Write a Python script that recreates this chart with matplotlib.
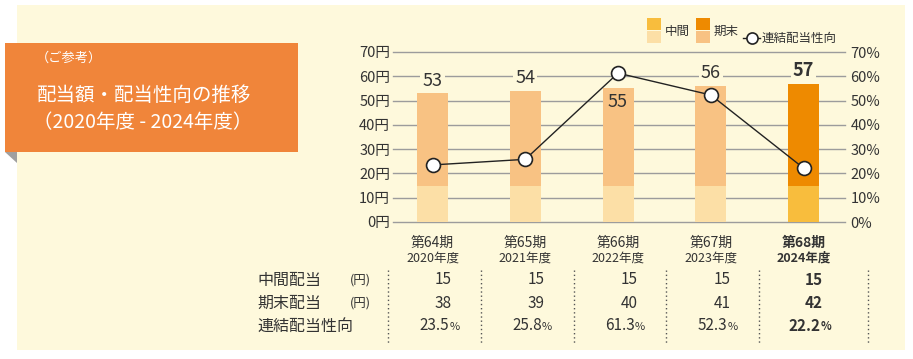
import numpy as np
import matplotlib.pyplot as plt
from matplotlib.patches import Rectangle, Polygon
from matplotlib.lines import Line2D
import matplotlib.transforms as mtransforms

plt.rcParams['font.family'] = ['Noto Sans CJK JP', 'DejaVu Sans']

periods = ['第64期', '第65期', '第66期', '第67期', '第68期']
years = ['2020年度', '2021年度', '2022年度', '2023年度', '2024年度']
interim = [15, 15, 15, 15, 15]
year_end = [38, 39, 40, 41, 42]
total = [53, 54, 55, 56, 57]
payout = [23.5, 25.8, 61.3, 52.3, 22.2]

W, H = 913, 359
bg = '#fef9dc'
txt = '#333333'
c_int = ['#fcdfa6'] * 4 + ['#f8bd3d']
c_end = ['#f8c283'] * 4 + ['#ee8a00']


def fx(px):
    return px / W


def fy(py):
    return 1 - py / H


fig = plt.figure(figsize=(W / 100, H / 100), dpi=100)
fig.patch.set_facecolor('white')

# cream panel + orange title box
fig.add_artist(Rectangle((fx(17), fy(350)), fx(905) - fx(17), fy(5) - fy(350),
                         transform=fig.transFigure, facecolor=bg, edgecolor='none', zorder=0))
fig.add_artist(Polygon([(fx(5), fy(152)), (fx(17), fy(152)), (fx(17), fy(163))],
                       transform=fig.transFigure, facecolor='#a0a0a0', edgecolor='none', zorder=1))
fig.add_artist(Rectangle((fx(5), fy(152)), fx(298) - fx(5), fy(43) - fy(152),
                         transform=fig.transFigure, facecolor='#f0853a', edgecolor='none', zorder=1))
fig.text(fx(36), fy(58), '（ご参考）', color='white', fontsize=9.5, va='center', ha='left')
fig.text(fx(37), fy(95), '配当額・配当性向の推移', color='white', fontsize=14, va='center', ha='left')
fig.text(fx(33), fy(123), '（2020年度 - 2024年度）', color='white', fontsize=14, va='center', ha='left')

ax = fig.add_axes([fx(393), fy(222), fx(845) - fx(393), fy(52) - fy(222)])
ax.set_facecolor('none')
x = np.arange(len(periods))
bw = 0.334
ax.bar(x, interim, bw, color=c_int, zorder=2)
ax.bar(x, year_end, bw, bottom=interim, color=c_end, zorder=2)
ax.set_xlim(-0.426, 4.447)
ax.set_ylim(0, 70)
ax.set_yticks(range(0, 71, 10))
ax.set_yticklabels([f'{v}円' for v in range(0, 71, 10)], fontsize=10.5, color=txt)
ax.set_xticks([])
ax.yaxis.grid(True, color='#9c9c9c', linewidth=1, zorder=0)
ax.set_axisbelow(True)
ax.tick_params(axis='y', length=0, pad=2)
for s in ax.spines.values():
    s.set_visible(False)
for gl in ax.yaxis.get_gridlines():
    gl.set_clip_on(False)

for i, t in enumerate(total):
    bold = i == len(total) - 1
    if t < payout[i] < t + 10:
        # line marker sits right above the bar, so the label goes inside
        ax.text(i, t - 2, str(t), ha='center', va='top', fontsize=13, color=txt, zorder=4)
    else:
        ax.text(i, t + 1.5, str(t), ha='center', va='bottom', fontsize=13, color=txt,
                fontweight='bold' if bold else 'normal', zorder=4,
                bbox=dict(facecolor=bg, edgecolor='none', pad=1.5))

ax2 = ax.twinx()
ax2.set_ylim(0, 70)
ax2.set_yticks(range(0, 71, 10))
ax2.set_yticklabels([f'{v}%' for v in range(0, 71, 10)], fontsize=10.5, color=txt)
ax2.tick_params(axis='y', length=0, pad=4)
for s in ax2.spines.values():
    s.set_visible(False)
ax2.plot(x, payout, color='#222222', linewidth=1, marker='o', markersize=10,
         markerfacecolor='white', markeredgecolor='#222222', markeredgewidth=1.2, zorder=5)

# legend
for lx, label, cols in [(647, '中間', ('#f8bd3d', '#fcdfa6')), (696, '期末', ('#ee8a00', '#f8c283'))]:
    fig.add_artist(Rectangle((fx(lx), fy(30)), fx(14), fy(18) - fy(30),
                             transform=fig.transFigure, facecolor=cols[0], edgecolor='none'))
    fig.add_artist(Rectangle((fx(lx), fy(43)), fx(14), fy(31) - fy(43),
                             transform=fig.transFigure, facecolor=cols[1], edgecolor='none'))
    fig.text(fx(lx + 18), fy(31), label, fontsize=9, color=txt, va='center', ha='left')
fig.add_artist(Line2D([fx(743), fx(760)], [fy(38), fy(38)], transform=fig.transFigure,
                      color='#222222', linewidth=1))
fig.add_artist(Line2D([fx(752)], [fy(38)], transform=fig.transFigure, marker='o',
                      markersize=8, markerfacecolor='white', markeredgecolor='#222222',
                      markeredgewidth=1.2, linestyle='none'))
fig.text(fx(762), fy(38), '連結配当性向', fontsize=9, color=txt, va='center', ha='left')

# table below
tr = mtransforms.blended_transform_factory(ax.transData, fig.transFigure)
for i in range(len(periods)):
    bold = 'bold' if i == len(periods) - 1 else 'normal'
    ax.text(i, fy(243), periods[i], transform=tr, ha='center', va='center',
            fontsize=10, color=txt, fontweight=bold)
    ax.text(i, fy(258), years[i], transform=tr, ha='center', va='center',
            fontsize=9, color=txt, fontweight=bold)
    ax.text(i + 0.21, fy(280), str(interim[i]), transform=tr, ha='right', va='center',
            fontsize=11, color=txt, fontweight=bold)
    ax.text(i + 0.21, fy(303), str(year_end[i]), transform=tr, ha='right', va='center',
            fontsize=11, color=txt, fontweight=bold)
    ax.text(i + 0.18, fy(326), f'{payout[i]:.1f}', transform=tr, ha='right', va='center',
            fontsize=11, color=txt, fontweight=bold)
    ax.text(i + 0.18, fy(327), '%', transform=tr, ha='left', va='center',
            fontsize=8, color=txt, fontweight=bold)

seps = [i - 0.48 for i in range(len(periods))] + [4.70]
for sx in seps:
    ax.add_line(Line2D([sx, sx], [fy(270), fy(343)], transform=tr, color='#555555',
                       linewidth=1, linestyle=(0, (1, 2)), clip_on=False))

row_labels = ['中間配当', '期末配当', '連結配当性向']
for ry, lab in zip([280, 303, 326], row_labels):
    fig.text(fx(257), fy(ry), lab, fontsize=11.5, color=txt, va='center', ha='left')
for ry in [280, 303]:
    fig.text(fx(350), fy(ry), '(円)', fontsize=9, color=txt, va='center', ha='left')

fig.savefig('out.png', dpi=100, facecolor='white')
